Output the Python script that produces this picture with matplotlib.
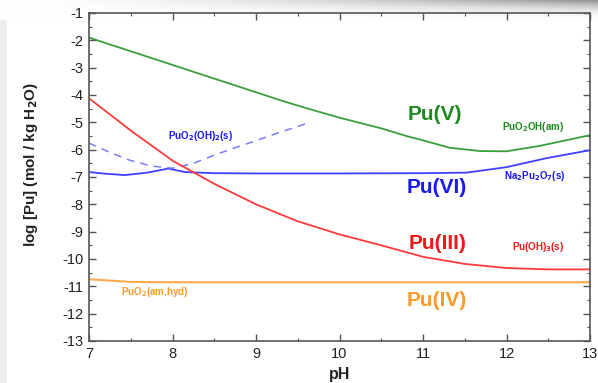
import numpy as np
import matplotlib
matplotlib.use("Agg")
import matplotlib.pyplot as plt

plt.rcParams['font.family'] = ['Liberation Sans', 'DejaVu Sans']

# ---- data ----
ph_v = [7.0, 7.5, 8.0, 8.5, 9.0, 9.3, 9.6, 10.0, 10.5, 10.8, 11.0, 11.32, 11.68, 12.0, 12.4, 13.0]
pu_v = [-1.9, -2.4, -2.9, -3.4, -3.9, -4.2, -4.48, -4.83, -5.22, -5.5, -5.66, -5.93, -6.05, -6.06, -5.86, -5.47]

ph_vi = [7.0, 7.2, 7.43, 7.7, 7.95, 8.15, 8.5, 9.0, 10.0, 11.0, 11.52, 12.0, 12.48, 13.0]
pu_vi = [-6.82, -6.88, -6.93, -6.84, -6.69, -6.82, -6.86, -6.87, -6.87, -6.86, -6.84, -6.64, -6.31, -6.02]

ph_vi_s = [7.0, 7.25, 7.5, 7.75, 8.0, 8.25, 8.5, 8.75, 9.0, 9.25, 9.62]
pu_vi_s = [-5.76, -6.1, -6.4, -6.6, -6.68, -6.5, -6.2, -5.93, -5.67, -5.4, -5.03]

ph_iii = [7.0, 7.5, 8.0, 8.5, 9.0, 9.5, 10.0, 10.5, 11.0, 11.5, 12.0, 12.5, 13.0]
pu_iii = [-4.12, -5.3, -6.4, -7.25, -8.0, -8.62, -9.1, -9.5, -9.92, -10.18, -10.33, -10.38, -10.38]

ph_iv = [7.0, 7.5, 8.0, 9.0, 10.0, 11.0, 12.0, 13.0]
pu_iv = [-10.74, -10.84, -10.85, -10.85, -10.85, -10.85, -10.85, -10.85]

x_ticks = [7, 8, 9, 10, 11, 12, 13]
y_ticks = [-1, -2, -3, -4, -5, -6, -7, -8, -9, -10, -11, -12, -13]

GREEN = '#3a9e3a'
GREEN_T = '#1f8a1f'
BLUE = '#4040ff'
BLUE_T = '#1a1aee'
RED = '#ff3a3a'
RED_T = '#f01818'
ORANGE = '#ffaa50'
ORANGE_T = '#ff9a28'

W, H = 598, 383
fig = plt.figure(figsize=(W / 100, H / 100), dpi=100)
fig.patch.set_facecolor('white')

# decorative background shadows (top band and left strip)
bg = fig.add_axes([0, 0, 1, 1], zorder=-10)
bg.set_xlim(0, 1)
bg.set_ylim(0, 1)
bg.axis('off')
grad = np.linspace(0, 1, 256) ** 1.6
top = np.ones((20, 256, 3))
for i in range(20):
    fade = (1 - i / 20) ** 2
    val = 1 - 0.42 * grad * fade
    top[i, :, 0] = val
    top[i, :, 1] = val
    top[i, :, 2] = val
bg.imshow(top, extent=[0, 1, 1 - 20 / H, 1], aspect='auto', origin='upper')
bg.add_patch(plt.Rectangle((0, 0), 7 / W, 1 - 20 / H, color='#eeeeee', lw=0))

ax = fig.add_axes([89 / W, 1 - 341 / H, (590 - 89) / W, (341 - 13) / H])
ax.set_facecolor('none')

ax.plot(ph_v, pu_v, color=GREEN, lw=1.3)
ax.plot(ph_vi, pu_vi, color=BLUE, lw=1.3)
ax.plot(ph_vi_s, pu_vi_s, color='#7b7bff', lw=1.1, ls=(0, (5, 4)))
ax.plot(ph_iii, pu_iii, color=RED, lw=1.3)
ax.plot(ph_iv, pu_iv, color=ORANGE, lw=1.5)

ax.set_xlim(7, 13)
ax.set_ylim(-13, -1)
ax.set_xticks(x_ticks)
ax.set_yticks(y_ticks)
ax.set_xticklabels([str(v) for v in x_ticks])
ax.set_yticklabels([str(v) for v in y_ticks])
ax.set_xticks(np.arange(7.5, 13, 1.0), minor=True)
ax.set_yticks(np.arange(-12.5, -1, 1.0), minor=True)
ax.tick_params(which='both', direction='in', top=True, right=True, color='#555555')
ax.tick_params(which='major', length=5, width=1.0, labelsize=10.5, labelcolor='#222222', pad=4)
ax.tick_params(which='minor', length=2.5, width=0.8)
for s in ax.spines.values():
    s.set_color('#555555')
    s.set_linewidth(1.2)

ax.set_xlabel('pH', fontsize=11.5, fontweight='bold', color='#222222')
ax.xaxis.set_label_coords(0.5, (341 - 367) / 328)
ax.set_ylabel('log [Pu] (mol / kg H$_\\mathbf{2}$O)', fontsize=11, fontweight='bold',
              color='#222222')
ax.yaxis.set_label_coords((40 - 89) / 501, (341 - 164) / 328)

big = dict(fontsize=15, fontweight='bold', ha='center', va='center')
small = dict(fontsize=7, fontweight='bold', ha='center', va='center')

ax.text(11.14, -4.73, 'Pu(V)', color=GREEN_T, **big)
ax.text(11.17, -7.37, 'Pu(VI)', color=BLUE_T, **big)
ax.text(11.17, -9.42, 'Pu(III)', color=RED_T, **big)
ax.text(11.17, -11.5, 'Pu(IV)', color=ORANGE_T, **big)

ax.text(12.32, -5.17, 'PuO$_\\mathbf{2}$OH(am)', color=GREEN_T, **small)
ax.text(12.34, -6.96, 'Na$_\\mathbf{2}$Pu$_\\mathbf{2}$O$_\\mathbf{7}$(s)', color=BLUE_T, **small)
ax.text(12.38, -9.56, 'Pu(OH)$_\\mathbf{3}$(s)', color=RED_T, **small)
ax.text(7.79, -11.2, 'PuO$_\\mathbf{2}$(am,hyd)', color=ORANGE_T, **small)
ax.text(8.33, -5.5, 'PuO$_\\mathbf{2}$(OH)$_\\mathbf{2}$(s)', color=BLUE_T, **small)

fig.savefig('out.png', dpi=100)
